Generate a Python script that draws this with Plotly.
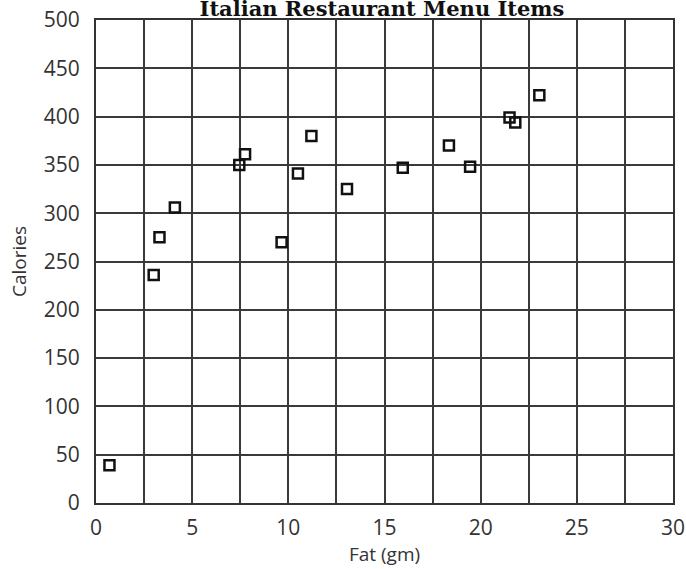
import plotly.graph_objects as go

# Italian restaurant menu items: fat (gm) vs calories
fat_gm = [0.7, 3.0, 3.3, 4.1, 7.45, 7.75, 9.65, 10.5, 11.2, 13.05,
          15.95, 18.35, 19.45, 21.5, 21.8, 23.05]
calories = [39, 236, 275, 306, 350, 361, 270, 341, 380, 325,
            347, 370, 348, 399, 394, 422]

x_ticks = [0, 5, 10, 15, 20, 25, 30]
y_ticks = [0, 50, 100, 150, 200, 250, 300, 350, 400, 450, 500]

fig = go.Figure()

fig.add_trace(go.Scatter(
    x=fat_gm,
    y=calories,
    mode='markers',
    marker=dict(symbol='square-open', size=10, color='#111',
                line=dict(width=2.5, color='#111')),
    showlegend=False
))

fig.update_layout(
    width=686,
    height=569,
    paper_bgcolor='white',
    plot_bgcolor='white',
    margin=dict(l=96, r=13, t=20, b=66),
    title=dict(
        text='<b>Italian Restaurant Menu Items</b>',
        font=dict(family='DejaVu Serif', size=21, color='#111'),
        x=382 / 686, xanchor='center', xref='container',
        yref='container', y=1 - 9 / 569, yanchor='middle'
    ),
    font=dict(family='Open Sans', color='#333')
)

fig.update_xaxes(
    range=[0, 30],
    tickvals=x_ticks,
    automargin=False,
    showgrid=True, gridcolor='#3a3a3a', gridwidth=1.5,
    minor=dict(dtick=2.5, showgrid=True, gridcolor='#3a3a3a', gridwidth=1.5),
    showline=True, linecolor='#333', linewidth=2, mirror=True,
    ticks='outside', ticklen=5, tickcolor='rgba(0,0,0,0)',
    tickfont=dict(size=21, color='#333'),
    zeroline=False,
    title=dict(text='Fat (gm)', font=dict(size=19, color='#333'), standoff=0)
)

fig.update_yaxes(
    range=[0, 500],
    tickvals=y_ticks,
    automargin=False,
    showgrid=True, gridcolor='#3a3a3a', gridwidth=1.5,
    showline=True, linecolor='#333', linewidth=2, mirror=True,
    ticks='outside', ticklen=10, tickcolor='rgba(0,0,0,0)',
    tickfont=dict(size=21, color='#333'),
    zeroline=False,
    title=dict(text='Calories', font=dict(size=19, color='#333'), standoff=12)
)

# drop the default body margin so the figure sits at the page corner
fig.write_html('out.html', config={'displayModeBar': False},
               post_script="document.body.style.margin='0';")
